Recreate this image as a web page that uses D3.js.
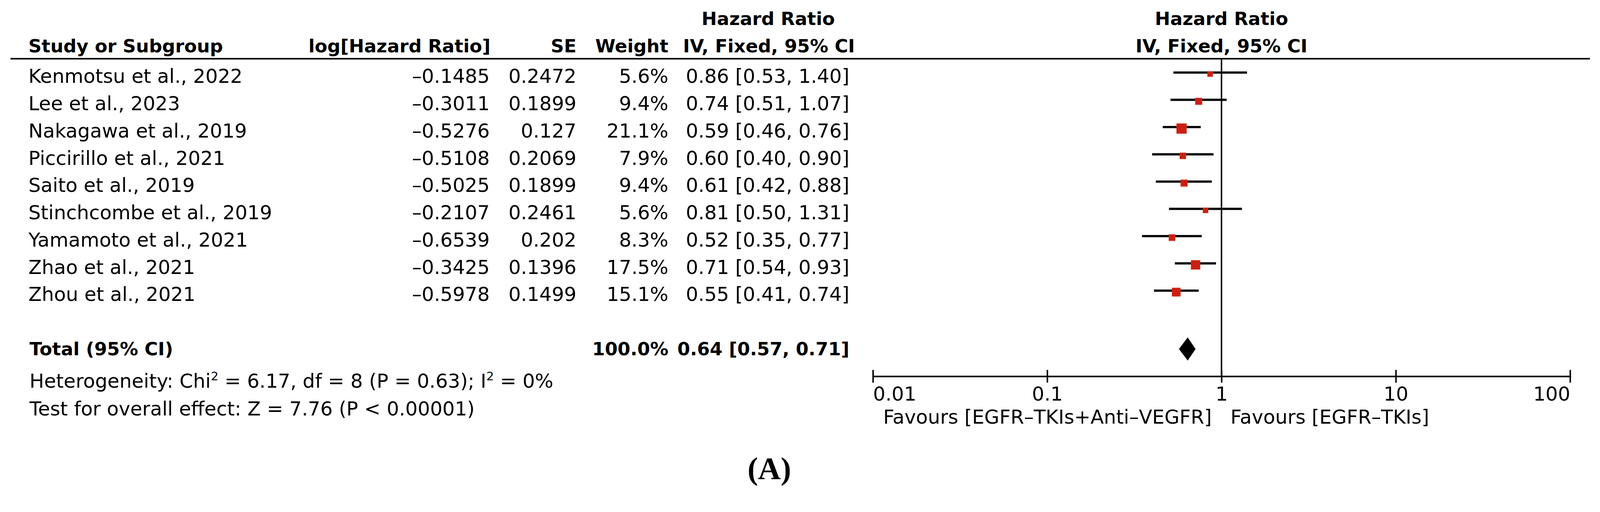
<!DOCTYPE html>
<html lang="en">
<head>
	<meta charset="UTF-8">
	<title>Forest plot</title>
	<script src="https://cdn.jsdelivr.net/npm/d3@7"></script>
	<style>
		html, body { margin: 0; padding: 0; background: #fff; overflow: hidden; }
		svg { display: block; }
		svg text { font-family: "DejaVu Sans", sans-serif; fill: #000; }
	</style>
</head>
<body>
<script>
	// study rows
	var studies = ["Kenmotsu et al., 2022", "Lee et al., 2023", "Nakagawa et al., 2019", "Piccirillo et al., 2021",
		"Saito et al., 2019", "Stinchcombe et al., 2019", "Yamamoto et al., 2021", "Zhao et al., 2021", "Zhou et al., 2021"];
	var logHR = [-0.1485, -0.3011, -0.5276, -0.5108, -0.5025, -0.2107, -0.6539, -0.3425, -0.5978];
	var se = [0.2472, 0.1899, 0.127, 0.2069, 0.1899, 0.2461, 0.202, 0.1396, 0.1499];
	var weight = [5.6, 9.4, 21.1, 7.9, 9.4, 5.6, 8.3, 17.5, 15.1];
	var hr = [0.86, 0.74, 0.59, 0.60, 0.61, 0.81, 0.52, 0.71, 0.55];
	var ciLow = [0.53, 0.51, 0.46, 0.40, 0.42, 0.50, 0.35, 0.54, 0.41];
	var ciHigh = [1.40, 1.07, 0.76, 0.90, 0.88, 1.31, 0.77, 0.93, 0.74];

	// pooled
	var totalWeight = 100.0;
	var totalHR = 0.64, totalLow = 0.57, totalHigh = 0.71;

	var axisTicks = [0.01, 0.1, 1, 10, 100];
	var favLeft = "Favours [EGFR–TKIs+Anti–VEGFR]";
	var favRight = "Favours [EGFR–TKIs]";

	// drawn in a 4280x1310 frame, fitted to whatever the window really is
	var svg = d3.select("body").append("svg")
		.attr("viewBox", "0 0 4280 1310")
		.attr("preserveAspectRatio", "xMinYMin meet")
		.style("width", "100vw")
		.style("height", "100vh");

	svg.append("rect").attr("width", 4280).attr("height", 1310).attr("fill", "#fff");

	var x = d3.scaleLog().domain([0.01, 100]).range([2335, 4200]);
	var rowY = d3.scaleLinear().domain([0, studies.length - 1]).range([222, 805]);
	var boxSize = d3.scaleSqrt().domain([0, 21.1]).range([0, 26]);
	var axisY = 1006;

	function fmt2(v) { return v.toFixed(2); }
	function neg(v) { return (v < 0 ? "–" : "") + Math.abs(v).toFixed(4); }

	// headers
	var hdr = svg.append("g").attr("font-weight", "bold").attr("font-size", 49);
	hdr.append("text").attr("x", 2055).attr("y", 67).attr("text-anchor", "middle").text("Hazard Ratio");
	hdr.append("text").attr("x", x(1)).attr("y", 67).attr("text-anchor", "middle").text("Hazard Ratio");
	hdr.append("text").attr("x", 76).attr("y", 140).text("Study or Subgroup");
	hdr.append("text").attr("x", 1312).attr("y", 140).attr("text-anchor", "end").text("log[Hazard Ratio]");
	hdr.append("text").attr("x", 1542).attr("y", 140).attr("text-anchor", "end").text("SE");
	hdr.append("text").attr("x", 1788).attr("y", 140).attr("text-anchor", "end").text("Weight");
	hdr.append("text").attr("x", 2057).attr("y", 140).attr("text-anchor", "middle").text("IV, Fixed, 95% CI");
	hdr.append("text").attr("x", x(1)).attr("y", 140).attr("text-anchor", "middle").text("IV, Fixed, 95% CI");

	svg.append("line").attr("x1", 28).attr("x2", 4253).attr("y1", 157).attr("y2", 157)
		.attr("stroke", "#000").attr("stroke-width", 4);

	// table rows
	var rows = svg.append("g").attr("font-size", 52);
	studies.forEach(function(s, i) {
		var y = rowY(i);
		rows.append("text").attr("x", 76).attr("y", y).text(s);
		rows.append("text").attr("x", 1310).attr("y", y).attr("text-anchor", "end").text(neg(logHR[i]));
		rows.append("text").attr("x", 1542).attr("y", y).attr("text-anchor", "end").text(String(se[i]));
		rows.append("text").attr("x", 1788).attr("y", y).attr("text-anchor", "end").text(weight[i].toFixed(1) + "%");
		rows.append("text").attr("x", 2272).attr("y", y).attr("text-anchor", "end")
			.text(fmt2(hr[i]) + " [" + fmt2(ciLow[i]) + ", " + fmt2(ciHigh[i]) + "]");
	});

	// total row
	var tot = svg.append("g").attr("font-weight", "bold").attr("font-size", 49);
	tot.append("text").attr("x", 79).attr("y", 950).text("Total (95% CI)");
	tot.append("text").attr("x", 1788).attr("y", 950).attr("text-anchor", "end").text(totalWeight.toFixed(1) + "%");
	tot.append("text").attr("x", 2272).attr("y", 950).attr("text-anchor", "end")
		.text(fmt2(totalHR) + " [" + fmt2(totalLow) + ", " + fmt2(totalHigh) + "]");

	var het = svg.append("text").attr("x", 79).attr("y", 1037).attr("font-size", 52);
	het.append("tspan").text("Heterogeneity: Chi");
	het.append("tspan").attr("font-size", 32).attr("dy", -20).text("2");
	het.append("tspan").attr("dy", 20).text(" = 6.17, df = 8 (P = 0.63); I");
	het.append("tspan").attr("font-size", 32).attr("dy", -20).text("2");
	het.append("tspan").attr("dy", 20).text(" = 0%");
	svg.append("text").attr("x", 79).attr("y", 1111).attr("font-size", 52)
		.text("Test for overall effect: Z = 7.76 (P < 0.00001)");

	// null line
	svg.append("line").attr("x1", x(1)).attr("x2", x(1)).attr("y1", 159).attr("y2", axisY)
		.attr("stroke", "#000").attr("stroke-width", 4);

	// CI lines and boxes
	var plot = svg.append("g");
	plot.selectAll("line.ci").data(studies).enter().append("line")
		.attr("class", "ci")
		.attr("x1", function(d, i) { return x(ciLow[i]); })
		.attr("x2", function(d, i) { return x(ciHigh[i]); })
		.attr("y1", function(d, i) { return rowY(i) - 28; })
		.attr("y2", function(d, i) { return rowY(i) - 28; })
		.attr("stroke", "#000").attr("stroke-width", 6);
	plot.selectAll("rect.box").data(studies).enter().append("rect")
		.attr("class", "box")
		.attr("x", function(d, i) { return x(hr[i]) - boxSize(weight[i]) / 2; })
		.attr("y", function(d, i) { return rowY(i) - 24 - boxSize(weight[i]) / 2; })
		.attr("width", function(d, i) { return boxSize(weight[i]); })
		.attr("height", function(d, i) { return boxSize(weight[i]); })
		.attr("fill", "#cb1f12").attr("stroke", "#d8301f").attr("stroke-width", 1.5);

	// pooled diamond
	var dy = 933;
	plot.append("path")
		.attr("d", "M" + x(totalLow) + "," + dy + "L" + x(totalHR) + "," + (dy - 31) +
			"L" + x(totalHigh) + "," + dy + "L" + x(totalHR) + "," + (dy + 31) + "Z")
		.attr("fill", "#000");

	// axis
	var axis = svg.append("g").attr("transform", "translate(0," + axisY + ")")
		.call(d3.axisBottom(x).tickValues(axisTicks).tickFormat(function(d) { return String(d); }).tickSizeOuter(0));
	axis.select(".domain").attr("stroke-width", 4).attr("stroke", "#000");
	axis.selectAll(".tick line").attr("y1", -17).attr("y2", 17).attr("stroke-width", 4).attr("stroke", "#000");
	axis.selectAll(".tick text")
		.attr("font-size", 52).attr("font-family", "DejaVu Sans").attr("fill", "#000")
		.attr("y", 65).attr("dy", null)
		.attr("text-anchor", function(d, i) { return i == 0 ? "start" : (i == axisTicks.length - 1 ? "end" : "middle"); });

	svg.append("text").attr("x", x(1) - 26).attr("y", axisY + 127).attr("font-size", 52)
		.attr("text-anchor", "end").text(favLeft);
	svg.append("text").attr("x", x(1) + 24).attr("y", axisY + 127).attr("font-size", 52).text(favRight);

	// panel label
	svg.append("text").attr("x", 2058).attr("y", 1281).attr("text-anchor", "middle")
		.attr("font-size", 84).attr("font-weight", "bold")
		.style("font-family", "'Liberation Serif', serif")
		.text("(A)");
</script>
</body>
</html>
